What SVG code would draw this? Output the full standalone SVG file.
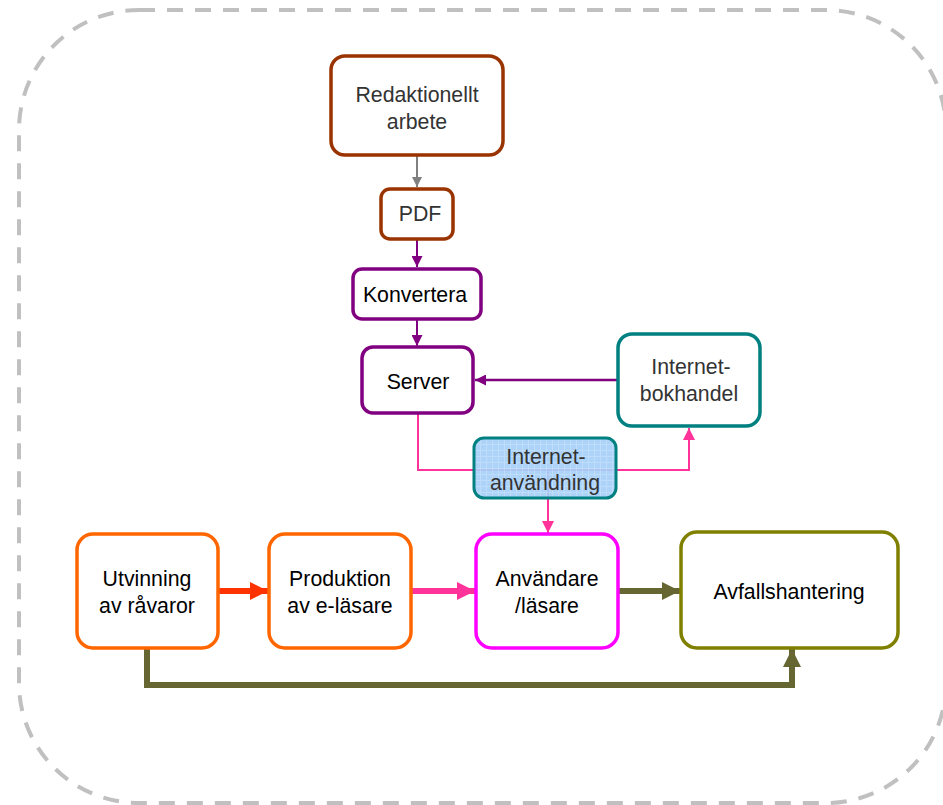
<svg xmlns="http://www.w3.org/2000/svg" width="943" height="805" viewBox="0 0 943 805">
<defs>
<style>
.n rect{fill:#fff;stroke-width:3.5}
text{font-family:"Liberation Sans",Arial,sans-serif;font-size:21.3px;text-anchor:middle}
.g{fill:#333}
.k{fill:#000}
.c{fill:none}
</style>
<marker id="aGray" viewBox="0 0 10 10" refX="10" refY="5" markerWidth="10" markerHeight="10" markerUnits="userSpaceOnUse" orient="auto"><path d="M0,0L10,5L0,10z" fill="#808080"/></marker>
<marker id="aPur" viewBox="0 0 10 10" refX="10" refY="5" markerWidth="11" markerHeight="11" markerUnits="userSpaceOnUse" orient="auto"><path d="M0,0L10,5L0,10z" fill="#800080"/></marker>
<marker id="aPink" viewBox="0 0 10 10" refX="10" refY="5" markerWidth="12" markerHeight="12" markerUnits="userSpaceOnUse" orient="auto"><path d="M0,0L10,5L0,10z" fill="#ff3399"/></marker>
<marker id="aRedT" viewBox="0 0 10 10" refX="10" refY="5" markerWidth="18" markerHeight="18" markerUnits="userSpaceOnUse" orient="auto"><path d="M0,0L10,5L0,10z" fill="#ff3300"/></marker>
<marker id="aPinkT" viewBox="0 0 10 10" refX="10" refY="5" markerWidth="18" markerHeight="18" markerUnits="userSpaceOnUse" orient="auto"><path d="M0,0L10,5L0,10z" fill="#ff3399"/></marker>
<marker id="aOliveT" viewBox="0 0 10 10" refX="10" refY="5" markerWidth="18" markerHeight="18" markerUnits="userSpaceOnUse" orient="auto"><path d="M0,0L10,5L0,10z" fill="#666633"/></marker>
<pattern id="grid" width="6" height="6" patternUnits="userSpaceOnUse"><rect width="6" height="6" fill="#a6cff8"/><path d="M0,0.5H6M0.5,0V6" stroke="#b9dafa" stroke-width="1"/></pattern>
</defs>

<rect x="19" y="10" width="927" height="793" rx="120" ry="120" fill="none" stroke="#c0c0c0" stroke-width="4" stroke-dasharray="16 12"/>

<g id="connectors">
<path class="c" d="M417,155V187" stroke="#808080" stroke-width="2" marker-end="url(#aGray)"/>
<path class="c" d="M417,239V267" stroke="#800080" stroke-width="2" marker-end="url(#aPur)"/>
<path class="c" d="M417,319V346" stroke="#800080" stroke-width="2" marker-end="url(#aPur)"/>
<path class="c" d="M618,380H475" stroke="#800080" stroke-width="2.5" marker-end="url(#aPur)"/>
<path class="c" d="M418,413V470H689V428" stroke="#ff3399" stroke-width="2" marker-end="url(#aPink)"/>
<path class="c" d="M548,470V533" stroke="#ff3399" stroke-width="2" marker-end="url(#aPink)"/>
<path class="c" d="M218,591H268" stroke="#ff3300" stroke-width="6" marker-end="url(#aRedT)"/>
<path class="c" d="M411,591H475" stroke="#ff3399" stroke-width="6" marker-end="url(#aPinkT)"/>
<path class="c" d="M618,591H680" stroke="#666633" stroke-width="6" marker-end="url(#aOliveT)"/>
<path class="c" d="M147,648V685H792V649" stroke="#666633" stroke-width="6" marker-end="url(#aOliveT)"/>
</g>

<g id="redaktionellt" class="n"><rect x="331" y="56" width="172" height="99" rx="14" stroke="#993300"/><text class="g" x="417" y="102">Redaktionellt</text><text class="g" x="417" y="129">arbete</text></g>
<g id="pdf" class="n"><rect x="381" y="189" width="72" height="50" rx="9" stroke="#993300"/><text class="g" x="420" y="221">PDF</text></g>
<g id="konvertera" class="n"><rect x="353" y="269" width="128" height="50" rx="9" stroke="#800080"/><text class="k" x="415" y="302">Konvertera</text></g>
<g id="server" class="n"><rect x="362" y="347" width="111" height="66" rx="11" stroke="#800080"/><text class="k" x="418" y="389">Server</text></g>
<g id="bokhandel" class="n"><rect x="618" y="334" width="142" height="92" rx="14" stroke="#008080"/><text class="g" x="691" y="374">Internet-</text><text class="g" x="689" y="401">bokhandel</text></g>
<g id="internetanvandning"><rect x="474" y="438" width="142" height="60" rx="10" fill="url(#grid)" fill-opacity="0.92" stroke="#008080" stroke-width="3"/><text class="g" x="546" y="464">Internet-</text><text class="g" x="545" y="490">användning</text></g>
<g id="utvinning" class="n"><rect x="77" y="534" width="141" height="114" rx="16" stroke="#ff6600"/><text class="k" x="147" y="586">Utvinning</text><text class="k" x="147" y="613">av råvaror</text></g>
<g id="produktion" class="n"><rect x="269" y="534" width="142" height="114" rx="16" stroke="#ff6600"/><text class="k" x="340" y="586">Produktion</text><text class="k" x="340" y="613">av e-läsare</text></g>
<g id="anvandare" class="n"><rect x="476" y="534" width="142" height="114" rx="16" stroke="#ff00ff"/><text class="k" x="547" y="586">Användare</text><text class="k" x="547" y="613">/läsare</text></g>
<g id="avfall" class="n"><rect x="681" y="532" width="217" height="116" rx="16" stroke="#808000"/><text class="k" x="789" y="599">Avfallshantering</text></g>
</svg>
